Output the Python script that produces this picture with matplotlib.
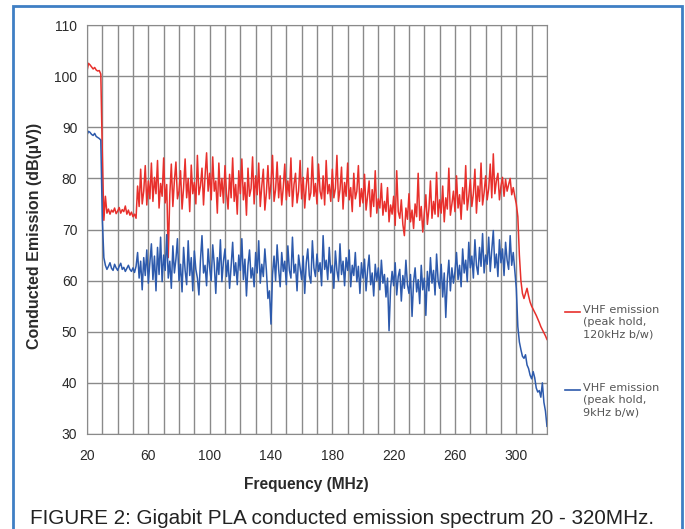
import numpy as np
import matplotlib
matplotlib.use("Agg")
import matplotlib.pyplot as plt
from matplotlib.lines import Line2D
from matplotlib.patches import Rectangle

plt.rcParams['font.family'] = ['Liberation Sans', 'DejaVu Sans']

# measurement frequencies, 1 MHz steps (MHz)
freq = np.arange(20, 321)

# VHF emission, peak hold, 120kHz b/w (dB(uV)), one row per 10 MHz
red_db = [
    101.0, 102.5, 102.2, 101.8, 101.4, 101.7, 101.2, 101.0, 101.1, 100.4,
    85.0, 71.8, 76.5, 73.2, 74.0, 73.0, 73.8, 73.4, 74.2, 73.1,
    73.6, 74.3, 73.2, 73.9, 73.5, 74.6, 73.0, 73.8, 72.8, 73.4,
    72.5, 73.0, 72.2, 78.5, 74.5, 81.8, 75.0, 77.5, 82.5, 74.8,
    79.5, 76.0, 83.0, 75.5, 80.2, 77.0, 83.5, 74.2, 79.0, 76.5,
    84.0, 75.2, 78.8, 64.5, 76.8, 82.8, 74.5, 79.5, 83.2, 76.0,
    77.5, 81.5, 74.0, 78.2, 83.8, 76.2, 80.0, 73.5, 82.6, 77.0,
    79.2, 75.0, 84.5, 76.8, 78.5, 82.0, 74.8, 80.5, 85.0, 77.5,
    81.0, 75.8, 84.2, 77.5, 79.5, 73.2, 83.0, 76.5, 80.0, 75.2,
    82.5, 77.0, 74.0, 80.8, 76.2, 84.0, 75.5, 78.8, 73.0, 81.5,
    77.0, 83.8, 75.8, 79.2, 72.8, 82.0, 76.5, 78.0, 84.2, 75.0,
    80.5, 76.8, 83.0, 74.5, 78.5, 81.8, 73.8, 77.2, 82.5, 76.0,
    79.0, 84.5, 75.5, 77.8, 83.2, 76.2, 80.5, 74.8, 78.2, 82.8,
    75.8, 79.5, 76.5, 84.0, 74.5, 78.8, 81.0, 75.2, 77.5, 83.5,
    76.0, 80.2, 74.2, 78.5, 82.0, 75.8, 77.2, 84.2, 76.5, 79.0,
    75.0, 82.8, 77.5, 76.0, 80.5, 74.8, 83.5, 77.0, 78.8, 75.5,
    81.8, 76.2, 78.0, 84.5, 75.5, 77.8, 82.2, 74.0, 79.2, 76.5,
    83.0, 75.8, 78.2, 73.5, 81.0, 76.0, 77.5, 82.5, 74.5, 78.0,
    75.2, 80.8, 73.8, 76.5, 79.5, 72.5, 77.8, 74.5, 81.5, 73.2,
    76.0, 74.2, 79.0, 72.8, 75.5, 73.5, 78.2, 71.5, 74.8, 73.0,
    76.5, 70.8, 81.5, 73.5, 72.2, 75.8, 71.0, 68.8, 74.2, 72.0,
    77.0, 71.5, 73.8, 70.2, 75.0, 72.5, 81.0, 71.8, 74.5, 69.5,
    73.2, 76.8, 71.0, 74.0, 79.5, 72.2, 75.5, 73.0, 81.2, 72.5,
    75.8, 73.2, 78.5, 71.5, 76.2, 74.0, 82.0, 72.8, 75.0, 77.5,
    73.5, 80.5, 74.2, 76.8, 72.0, 78.2, 75.0, 82.5, 73.8, 76.5,
    79.8, 74.5, 77.0, 81.8, 73.2, 78.5, 75.5, 83.0, 74.8, 77.2,
    80.5, 75.8, 78.0, 82.8, 76.2, 84.8, 77.0, 79.5, 81.0, 75.8,
    78.5, 80.2, 76.5, 79.8, 77.5, 78.8, 80.0, 76.8, 78.2, 76.5,
    75.0, 72.5, 65.0, 60.0, 57.5, 56.5, 57.5, 58.5, 57.0, 55.8,
    55.0, 54.4, 53.8, 53.2, 52.5, 51.8, 51.0, 50.4, 49.8, 49.2,
    48.5,
]

# VHF emission, peak hold, 9kHz b/w (dB(uV))
blue_db = [
    88.5, 89.2, 89.0, 88.6, 88.4, 88.8, 88.2, 88.0, 87.8, 87.5,
    72.0, 64.5, 63.0, 62.2, 62.8, 63.5, 62.4, 62.0, 63.2, 62.5,
    62.0, 62.8, 63.4, 62.2, 62.6, 61.8, 62.4, 63.0, 62.2, 61.8,
    62.5, 61.6, 62.8, 65.5, 60.5, 63.8, 58.2, 64.5, 61.0, 66.0,
    59.5, 63.5, 67.2, 60.2, 64.8, 58.0, 66.5, 61.2, 68.5, 59.8,
    65.0, 62.0, 69.0, 60.5, 63.8, 58.5, 66.8, 61.5, 64.2, 68.2,
    60.0, 63.2, 57.8, 66.5, 62.0, 59.2, 67.8, 61.0, 64.5, 58.0,
    65.8, 62.2, 60.5, 57.2, 64.0, 68.8, 61.5, 63.0, 59.0, 66.2,
    62.5, 60.0, 67.0, 63.2, 57.5, 64.5, 61.2, 68.0, 59.8, 63.8,
    66.2, 60.8, 64.0, 58.5, 62.8, 67.5, 61.0, 63.5, 59.2, 65.0,
    62.0, 68.2, 60.2, 64.2, 57.0, 63.0, 66.0, 60.5, 62.5, 58.8,
    65.5, 61.5, 67.8, 59.5, 63.2, 60.8, 66.2, 62.0, 56.5, 58.0,
    51.5, 61.2, 64.8, 60.0, 67.0, 62.2, 58.8, 65.5, 61.8, 63.8,
    59.2, 66.8, 62.0, 60.5, 68.5, 61.5, 63.2, 58.0, 65.0, 62.5,
    60.2, 64.8, 57.5, 63.5, 66.2, 61.0, 59.5, 67.8, 62.5, 60.8,
    65.2, 61.8, 63.5, 59.0, 68.8, 62.2, 64.0, 60.2, 66.5, 61.5,
    63.0, 58.5, 65.8, 62.0, 60.0, 67.2, 61.2, 63.8, 59.0, 64.5,
    62.0, 66.0, 58.8, 63.0, 61.0, 65.5, 59.8, 62.8, 57.5, 63.5,
    60.5, 64.2, 58.0, 62.0, 65.0, 59.2, 61.5, 57.0, 63.2, 60.0,
    62.5, 58.2, 64.0, 59.5, 61.2, 56.8, 60.5, 50.2, 58.5, 61.8,
    59.0, 63.5, 57.2, 60.8, 62.2, 56.0, 61.0, 58.5, 64.0, 59.2,
    57.5, 61.2, 53.0, 59.8, 62.5, 57.8, 60.2, 55.5, 63.0, 58.2,
    60.5, 53.2, 61.8, 58.0, 64.5, 59.5, 62.0, 57.2, 65.2, 60.0,
    58.5, 63.2, 56.8, 61.5, 52.8, 60.2, 64.0, 58.0, 62.5, 59.5,
    61.8, 65.5, 60.2, 63.0, 58.8, 66.2, 61.5, 64.0, 59.8, 67.5,
    62.5, 64.8, 60.5, 68.0, 63.0, 61.2, 66.5, 62.8, 69.2, 61.5,
    65.0, 63.2, 68.5, 61.8, 66.0, 69.8, 62.5, 65.2, 60.8, 68.0,
    63.5, 66.2, 61.0, 67.5, 64.0, 62.2, 68.8, 63.0, 65.5, 62.0,
    58.5, 51.0, 48.0, 46.5, 45.2, 44.8, 45.5, 43.5, 42.8, 41.5,
    40.8, 42.2, 41.0, 39.0, 38.2, 38.5, 37.2, 40.0, 36.2, 34.5,
    31.5,
]

x_ticks = [20, 60, 100, 140, 180, 220, 260, 300]
y_ticks = [30, 40, 50, 60, 70, 80, 90, 100, 110]
legend_labels = ["VHF emission\n(peak hold,\n120kHz b/w)",
                 "VHF emission\n(peak hold,\n9kHz b/w)"]

red = "#e8302c"
blue = "#2d5aac"

fig = plt.figure(figsize=(6.85, 5.29), dpi=100)
ax = fig.add_axes([0.127, 0.1796, 0.6715, 0.7731])

ax.plot(freq, red_db, color=red, lw=1.1)
ax.plot(freq, blue_db, color=blue, lw=1.1)

ax.set_xlim(20, 320)
ax.set_ylim(30, 110)
ax.set_xticks(x_ticks)
ax.set_xticks(np.arange(20, 321, 10), minor=True)
ax.set_yticks(y_ticks)
ax.grid(True, which='both', color='#8a8a8a', lw=1.0)
ax.set_axisbelow(True)
ax.tick_params(which='both', length=0, labelsize=10, labelcolor='#2a2a2a')
ax.tick_params(axis='x', pad=11)
ax.tick_params(axis='y', pad=7)
for s in ax.spines.values():
    s.set_color('#8a8a8a')

ax.set_xlabel("Frequency (MHz)", fontsize=11.2, fontweight='bold', color='#2a2a2a')
ax.xaxis.set_label_coords(0.476, -0.105)
ax.set_ylabel("Conducted Emission (dB(\u00b5V))", fontsize=11.5, fontweight='bold', color='#2a2a2a', labelpad=9)
ax.yaxis.label.set_y(0.484)

# legend drawn beside the plot
for i, (lab, col) in enumerate(zip(legend_labels, [red, blue])):
    y0 = 1 - (312 + i * 78) / 529
    fig.add_artist(Line2D([565 / 685, 580 / 685], [y0, y0], color=col, lw=1.2))
    fig.text(583 / 685, y0 + 0.0125, lab, fontsize=8.1, color='#555555', va='top',
             linespacing=1.25, family='DejaVu Sans')

# figure frame and caption
fig.add_artist(Rectangle((13 / 685, -0.02), 669 / 685, 1.0087, fill=False,
                         edgecolor='#3f7fc4', lw=2.0, transform=fig.transFigure))
fig.text(0.5, 1 - 519 / 529, "FIGURE 2: Gigabit PLA conducted emission spectrum 20 - 320MHz.",
         fontsize=14.9, color='#222222', ha='center', va='center')

fig.savefig("out.png", dpi=100)
